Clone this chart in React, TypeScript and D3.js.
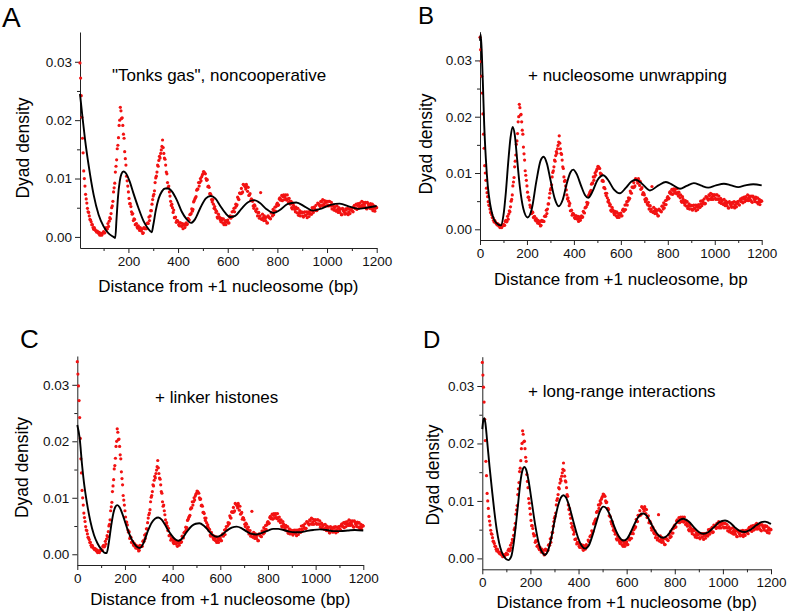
import * as d3 from 'd3'
import React, { useEffect, useRef } from 'react'

// experimental dyad density, one reading every 5 bp from 0 to 1200
const redStepBp = 5
const dyadDensity = [
  0.0341, 0.0298, 0.0242, 0.0169, 0.0113, 0.0087, 0.0065, 0.0049, 0.0042, 0.0030,
  0.0026, 0.0021, 0.0013, 0.0013, 0.0010, 0.0010, 0.0006, 0.0003, 0.0006, 0.0006,
  0.0009, 0.0007, 0.0016, 0.0014, 0.0018, 0.0033, 0.0040, 0.0053, 0.0077, 0.0092,
  0.0121, 0.0151, 0.0170, 0.0200, 0.0216, 0.0204, 0.0176, 0.0146, 0.0123, 0.0096,
  0.0077, 0.0057, 0.0052, 0.0039, 0.0028, 0.0030, 0.0022, 0.0017, 0.0019, 0.0011,
  0.0013, 0.0014, 0.0007, 0.0014, 0.0014, 0.0023, 0.0023, 0.0028, 0.0045, 0.0056,
  0.0070, 0.0079, 0.0101, 0.0111, 0.0121, 0.0138, 0.0143, 0.0155, 0.0153, 0.0135,
  0.0123, 0.0108, 0.0085, 0.0077, 0.0061, 0.0056, 0.0042, 0.0033, 0.0034, 0.0028,
  0.0026, 0.0019, 0.0024, 0.0018, 0.0014, 0.0022, 0.0020, 0.0021, 0.0032, 0.0029,
  0.0039, 0.0048, 0.0047, 0.0062, 0.0067, 0.0080, 0.0082, 0.0087, 0.0100, 0.0103,
  0.0108, 0.0111, 0.0108, 0.0097, 0.0086, 0.0085, 0.0074, 0.0064, 0.0064, 0.0049,
  0.0047, 0.0044, 0.0032, 0.0035, 0.0029, 0.0032, 0.0024, 0.0021, 0.0028, 0.0026,
  0.0029, 0.0024, 0.0036, 0.0034, 0.0035, 0.0049, 0.0050, 0.0053, 0.0068, 0.0064,
  0.0075, 0.0083, 0.0077, 0.0089, 0.0086, 0.0090, 0.0078, 0.0071, 0.0074, 0.0065,
  0.0061, 0.0049, 0.0053, 0.0043, 0.0036, 0.0042, 0.0036, 0.0031, 0.0039, 0.0028,
  0.0032, 0.0034, 0.0024, 0.0034, 0.0032, 0.0041, 0.0036, 0.0038, 0.0051, 0.0052,
  0.0058, 0.0055, 0.0067, 0.0064, 0.0062, 0.0072, 0.0069, 0.0065, 0.0072, 0.0059,
  0.0061, 0.0061, 0.0048, 0.0054, 0.0047, 0.0051, 0.0041, 0.0037, 0.0045, 0.0041,
  0.0042, 0.0034, 0.0043, 0.0037, 0.0033, 0.0043, 0.0040, 0.0039, 0.0050, 0.0042,
  0.0049, 0.0054, 0.0046, 0.0057, 0.0054, 0.0061, 0.0054, 0.0053, 0.0062, 0.0059,
  0.0061, 0.0053, 0.0061, 0.0053, 0.0048, 0.0055, 0.0050, 0.0045, 0.0053, 0.0042,
  0.0046, 0.0048, 0.0038, 0.0046, 0.0042, 0.0048, 0.0040, 0.0038, 0.0048, 0.0046,
  0.0049, 0.0043, 0.0054, 0.0049, 0.0047, 0.0057, 0.0054, 0.0052, 0.0061, 0.0051,
  0.0056, 0.0059, 0.0048, 0.0057, 0.0052, 0.0057, 0.0048, 0.0045, 0.0053, 0.0049,
  0.0050
]

// further readings, in between: 2.5, 7.5, ... 1197.5 bp
const redOffsetBp = 2.5
const dyadDensityMid = [
  0.0319, 0.0272, 0.0205, 0.0144, 0.0100, 0.0073, 0.0058, 0.0043, 0.0036, 0.0029,
  0.0021, 0.0016, 0.0016, 0.0011, 0.0008, 0.0008, 0.0008, 0.0004, 0.0003, 0.0007,
  0.0007, 0.0014, 0.0013, 0.0023, 0.0027, 0.0031, 0.0050, 0.0061, 0.0084, 0.0111,
  0.0132, 0.0157, 0.0191, 0.0222, 0.0203, 0.0191, 0.0169, 0.0134, 0.0104, 0.0087,
  0.0066, 0.0057, 0.0043, 0.0040, 0.0031, 0.0021, 0.0023, 0.0015, 0.0015, 0.0016,
  0.0010, 0.0006, 0.0016, 0.0015, 0.0014, 0.0024, 0.0034, 0.0036, 0.0045, 0.0064,
  0.0073, 0.0093, 0.0104, 0.0123, 0.0131, 0.0135, 0.0149, 0.0166, 0.0143, 0.0133,
  0.0111, 0.0093, 0.0087, 0.0070, 0.0054, 0.0050, 0.0046, 0.0033, 0.0025, 0.0028,
  0.0021, 0.0024, 0.0019, 0.0023, 0.0020, 0.0016, 0.0024, 0.0022, 0.0030, 0.0038,
  0.0040, 0.0044, 0.0060, 0.0065, 0.0069, 0.0082, 0.0093, 0.0093, 0.0096, 0.0106,
  0.0112, 0.0109, 0.0100, 0.0098, 0.0087, 0.0074, 0.0072, 0.0060, 0.0056, 0.0052,
  0.0042, 0.0034, 0.0039, 0.0033, 0.0026, 0.0029, 0.0031, 0.0024, 0.0021, 0.0028,
  0.0024, 0.0034, 0.0032, 0.0043, 0.0044, 0.0043, 0.0056, 0.0055, 0.0065, 0.0075,
  0.0074, 0.0075, 0.0090, 0.0088, 0.0082, 0.0086, 0.0085, 0.0072, 0.0062, 0.0064,
  0.0053, 0.0055, 0.0045, 0.0048, 0.0041, 0.0032, 0.0076, 0.0030, 0.0033, 0.0036,
  0.0028, 0.0024, 0.0036, 0.0033, 0.0031, 0.0041, 0.0047, 0.0044, 0.0044, 0.0056,
  0.0054, 0.0065, 0.0063, 0.0071, 0.0069, 0.0064, 0.0072, 0.0063, 0.0065, 0.0066,
  0.0056, 0.0050, 0.0058, 0.0051, 0.0043, 0.0048, 0.0049, 0.0041, 0.0036, 0.0043,
  0.0036, 0.0042, 0.0037, 0.0043, 0.0040, 0.0035, 0.0044, 0.0039, 0.0045, 0.0051,
  0.0046, 0.0045, 0.0058, 0.0056, 0.0052, 0.0060, 0.0064, 0.0057, 0.0053, 0.0061,
  0.0055, 0.0061, 0.0054, 0.0059, 0.0053, 0.0046, 0.0052, 0.0044, 0.0047, 0.0050,
  0.0042, 0.0038, 0.0049, 0.0044, 0.0039, 0.0046, 0.0049, 0.0043, 0.0040, 0.0049,
  0.0044, 0.0052, 0.0049, 0.0056, 0.0054, 0.0049, 0.0058, 0.0051, 0.0055, 0.0059,
  0.0052, 0.0049, 0.0059, 0.0054, 0.0049, 0.0055, 0.0056, 0.0049, 0.0044, 0.0051
]

// model curves [bp, density]
const modelA = [
  [5, 0.0245], [15, 0.0205], [25, 0.0168], [40, 0.0122], [60, 0.0072], [80, 0.0038],
  [100, 0.0018], [120, 0.0006], [140, 0.0000], [147, -0.0002], [152, 0.0030], [158, 0.0068],
  [165, 0.0095], [172, 0.0108], [180, 0.0112], [190, 0.0109], [205, 0.0095], [220, 0.0075],
  [240, 0.0050], [260, 0.0028], [280, 0.0014], [294, 0.0008], [300, 0.0020], [310, 0.0045],
  [322, 0.0066], [335, 0.0078], [348, 0.0083], [360, 0.0083], [375, 0.0078], [395, 0.0063],
  [415, 0.0043], [435, 0.0030], [452, 0.0024], [468, 0.0030], [490, 0.0050], [512, 0.0066],
  [531, 0.0070], [550, 0.0066], [570, 0.0053], [590, 0.0041], [610, 0.0034], [630, 0.0036],
  [655, 0.0048], [680, 0.0059], [706, 0.0063], [730, 0.0058], [755, 0.0048], [785, 0.0041],
  [810, 0.0046], [840, 0.0056], [876, 0.0059], [910, 0.0052], [944, 0.0045], [980, 0.0049],
  [1015, 0.0055], [1051, 0.0057], [1090, 0.0052], [1125, 0.0048], [1160, 0.0050], [1200, 0.0053]
]

const modelB = [
  [0, 0.0335], [3, 0.0346], [8, 0.0310], [13, 0.0250], [18, 0.0185], [25, 0.0125],
  [33, 0.0078], [43, 0.0045], [54, 0.0024], [70, 0.0011], [89, 0.0007], [100, 0.0025],
  [110, 0.0065], [120, 0.0118], [130, 0.0163], [139, 0.0182], [148, 0.0168], [158, 0.0125],
  [170, 0.0075], [185, 0.0036], [203, 0.0021], [220, 0.0035], [240, 0.0085], [258, 0.0122],
  [271, 0.0129], [285, 0.0117], [300, 0.0088], [318, 0.0055], [335, 0.0041], [352, 0.0052],
  [370, 0.0082], [385, 0.0101], [397, 0.0106], [412, 0.0098], [430, 0.0078], [447, 0.0061],
  [461, 0.0056], [478, 0.0066], [500, 0.0087], [525, 0.0096], [545, 0.0088], [570, 0.0071],
  [596, 0.0064], [620, 0.0073], [645, 0.0085], [664, 0.0088], [690, 0.0081], [724, 0.0069],
  [760, 0.0078], [792, 0.0084], [820, 0.0079], [852, 0.0072], [880, 0.0077], [911, 0.0082],
  [940, 0.0078], [972, 0.0074], [1005, 0.0078], [1039, 0.0081], [1070, 0.0078], [1100, 0.0075],
  [1130, 0.0078], [1164, 0.0080], [1200, 0.0078]
]

const modelC = [
  [0, 0.0229], [10, 0.0205], [20, 0.0158], [30, 0.0120], [40, 0.0092], [55, 0.0058],
  [70, 0.0034], [85, 0.0019], [100, 0.0009], [113, 0.0003], [123, 0.0002], [132, 0.0020],
  [142, 0.0050], [152, 0.0074], [160, 0.0084], [168, 0.0087], [178, 0.0083], [192, 0.0068],
  [210, 0.0045], [230, 0.0025], [248, 0.0014], [263, 0.0011], [278, 0.0020], [295, 0.0040],
  [312, 0.0056], [326, 0.0063], [340, 0.0065], [355, 0.0061], [375, 0.0047], [395, 0.0034],
  [412, 0.0026], [424, 0.0024], [440, 0.0028], [460, 0.0040], [480, 0.0050], [497, 0.0054],
  [512, 0.0055], [530, 0.0051], [550, 0.0042], [568, 0.0034], [585, 0.0031], [605, 0.0034],
  [625, 0.0041], [648, 0.0047], [669, 0.0049], [690, 0.0046], [712, 0.0040], [732, 0.0036],
  [752, 0.0035], [775, 0.0038], [800, 0.0042], [822, 0.0045], [843, 0.0045], [865, 0.0043],
  [890, 0.0040], [912, 0.0039], [934, 0.0039], [960, 0.0041], [990, 0.0043], [1018, 0.0044],
  [1045, 0.0043], [1075, 0.0041], [1105, 0.0041], [1135, 0.0042], [1165, 0.0043], [1200, 0.0042]
]

const modelD = [
  [0, 0.0225], [4, 0.0240], [8, 0.0244], [13, 0.0235], [20, 0.0205], [30, 0.0160],
  [40, 0.0120], [50, 0.0082], [60, 0.0050], [70, 0.0027], [80, 0.0012], [92, 0.0002],
  [108, -0.0003], [120, 0.0003], [130, 0.0025], [140, 0.0060], [150, 0.0100], [160, 0.0138],
  [168, 0.0155], [175, 0.0159], [182, 0.0155], [192, 0.0136], [205, 0.0100], [220, 0.0058],
  [235, 0.0026], [248, 0.0011], [260, 0.0006], [272, 0.0012], [285, 0.0032], [300, 0.0064],
  [315, 0.0092], [327, 0.0106], [337, 0.0110], [348, 0.0106], [362, 0.0090], [380, 0.0062],
  [398, 0.0036], [413, 0.0022], [427, 0.0017], [442, 0.0022], [458, 0.0040], [475, 0.0064],
  [490, 0.0083], [503, 0.0090], [516, 0.0087], [532, 0.0074], [550, 0.0054], [568, 0.0038],
  [586, 0.0031], [603, 0.0035], [622, 0.0050], [640, 0.0066], [656, 0.0076], [669, 0.0078],
  [684, 0.0074], [700, 0.0062], [718, 0.0048], [735, 0.0039], [752, 0.0036], [770, 0.0040],
  [790, 0.0052], [810, 0.0063], [835, 0.0069], [858, 0.0064], [880, 0.0054], [900, 0.0046],
  [919, 0.0043], [940, 0.0046], [962, 0.0054], [985, 0.0063], [1009, 0.0066], [1030, 0.0062],
  [1050, 0.0054], [1070, 0.0048], [1092, 0.0046], [1115, 0.0050], [1140, 0.0058], [1160, 0.0063],
  [1175, 0.0064], [1190, 0.0062], [1200, 0.0060]
]

const yTicks = [0, 0.01, 0.02, 0.03]
const yMinorTicks = [0.005, 0.015, 0.025]
const xTicksFull = [0, 200, 400, 600, 800, 1000, 1200]
const xTicksA = [200, 400, 600, 800, 1000, 1200]
const xMinorTicks = [100, 300, 500, 700, 900, 1100]

const panels = [
  {
    letter: 'A', letterX: 2, letterY: 27, letterSize: 28,
    note: '"Tonks gas", noncooperative', noteX: 112, noteY: 81,
    xTitle: 'Distance from +1 nucleosome (bp)', xTitleY: 292,
    yTitleX: 28.5, yTitleY: 148,
    model: modelA, xMin: 5, xTicks: xTicksA,
    left: 80, right: 376.7, top: 32, bottom: 248
  },
  {
    letter: 'B', letterX: 418, letterY: 23.5, letterSize: 24,
    note: '+ nucleosome unwrapping', noteX: 528, noteY: 81,
    xTitle: 'Distance from +1 nucleosome, bp', xTitleY: 285,
    yTitleX: 432, yTitleY: 144,
    model: modelB, xMin: 0, xTicks: xTicksFull,
    left: 480, right: 761.7, top: 31.7, bottom: 240
  },
  {
    letter: 'C', letterX: 20, letterY: 348, letterSize: 26,
    note: '+ linker histones', noteX: 155, noteY: 403,
    xTitle: 'Distance from +1 nucleosome (bp)', xTitleY: 605,
    yTitleX: 28, yTitleY: 467.5,
    model: modelC, xMin: 0, xTicks: xTicksFull,
    left: 77.3, right: 363.3, top: 356, bottom: 565
  },
  {
    letter: 'D', letterX: 423, letterY: 348, letterSize: 24,
    note: '+ long-range interactions', noteX: 528, noteY: 397,
    xTitle: 'Distance from +1 nucleosome (bp)', xTitleY: 608,
    yTitleX: 439, yTitleY: 475,
    model: modelD, xMin: 0, xTicks: xTicksFull,
    left: 482.3, right: 771, top: 356.7, bottom: 569.3
  }
]

const FONT = '"Liberation Sans", Arial, Helvetica, sans-serif'

export default function App() {
  const svgRef = useRef<SVGSVGElement>(null)

  useEffect(() => {
    if (!svgRef.current) return
    const svg = d3.select(svgRef.current)
    svg.selectAll('*').remove()

    const redPoints = dyadDensity.map((v, i) => ({ bp: i * redStepBp, v }))
      .concat(dyadDensityMid.map((v, i) => ({ bp: redOffsetBp + i * redStepBp, v })))

    panels.forEach(p => {
      const x = d3.scaleLinear().domain([p.xMin, 1200]).range([p.left, p.right])
      const y = d3.scaleLinear().domain([-0.0019, 0.0351]).range([p.bottom, p.top])
      const g = svg.append('g').attr('font-family', FONT)

      // minor ticks
      g.append('g')
        .attr('transform', `translate(0,${p.bottom})`)
        .call(d3.axisBottom(x).tickValues(xMinorTicks).tickSize(3).tickFormat(() => ''))
        .call(a => a.select('.domain').remove())
      g.append('g')
        .attr('transform', `translate(${p.left},0)`)
        .call(d3.axisLeft(y).tickValues(yMinorTicks).tickSize(3).tickFormat(() => ''))
        .call(a => a.select('.domain').remove())

      // main axes
      const xAxis = g.append('g')
        .attr('transform', `translate(0,${p.bottom})`)
        .call(d3.axisBottom(x).tickValues(p.xTicks).tickSize(5).tickSizeOuter(0).tickPadding(3).tickFormat(d3.format('d')))
      xAxis.selectAll('text').attr('font-size', 13.5).attr('fill', '#111').attr('font-family', FONT)

      const yAxis = g.append('g')
        .attr('transform', `translate(${p.left},0)`)
        .call(d3.axisLeft(y).tickValues(yTicks).tickSize(5).tickSizeOuter(0).tickPadding(3).tickFormat(d3.format('.2f')))
      yAxis.selectAll('text').attr('font-size', 13.5).attr('fill', '#111').attr('font-family', FONT)

      g.selectAll('.domain, .tick line').attr('stroke', '#222').attr('stroke-width', 1)

      // experimental data
      g.append('g')
        .selectAll('circle')
        .data(redPoints.filter(d => d.bp >= p.xMin))
        .enter().append('circle')
        .attr('cx', d => x(d.bp))
        .attr('cy', d => y(d.v))
        .attr('r', 1.6)
        .attr('fill', '#f21212')

      // model
      const line = d3.line<number[]>()
        .x(d => x(d[0]))
        .y(d => y(d[1]))
        .curve(d3.curveMonotoneX)
      g.append('path')
        .datum(p.model)
        .attr('d', line)
        .attr('fill', 'none')
        .attr('stroke', '#000')
        .attr('stroke-width', 1.9)

      // texts
      g.append('text')
        .attr('x', p.letterX).attr('y', p.letterY)
        .attr('font-size', p.letterSize)
        .text(p.letter)
      g.append('text')
        .attr('x', p.noteX).attr('y', p.noteY)
        .attr('font-size', 17)
        .text(p.note)
      g.append('text')
        .attr('x', (p.left + p.right) / 2).attr('y', p.xTitleY)
        .attr('text-anchor', 'middle')
        .attr('font-size', 17)
        .text(p.xTitle)
      g.append('text')
        .attr('transform', `translate(${p.yTitleX},${p.yTitleY}) rotate(-90)`)
        .attr('text-anchor', 'middle')
        .attr('font-size', 17.5)
        .text('Dyad density')
    })
  }, [])

  return (
    <svg
      ref={svgRef}
      width={789}
      height={616}
      style={{ position: 'absolute', left: 0, top: 0, background: '#fff' }}
    />
  )
}
